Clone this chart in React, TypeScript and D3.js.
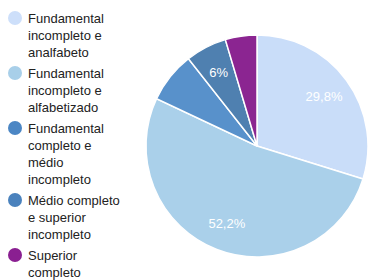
import React, { useEffect, useRef } from 'react';
import * as d3 from 'd3';

const categories = [
  ['Fundamental', 'incompleto e', 'analfabeto'],
  ['Fundamental', 'incompleto e', 'alfabetizado'],
  ['Fundamental', 'completo e', 'médio', 'incompleto'],
  ['Médio completo', 'e superior', 'incompleto'],
  ['Superior', 'completo'],
];
const values = [29.8, 52.2, 7.4, 6.0, 4.6];
const sliceLabels = ['29,8%', '52,2%', '', '6%', ''];
const colors = ['#c9ddf9', '#aad0ea', '#5891cb', '#4f80b0', '#8b2591'];
const legendColors = ['#cddffa', '#a8cfe9', '#4b86c4', '#4a82bd', '#8a1f91'];

const App: React.FC = () => {
  const svgRef = useRef<SVGSVGElement>(null);

  useEffect(() => {
    if (!svgRef.current) return;
    const svg = d3.select(svgRef.current);
    svg.selectAll('*').remove();

    const font = '"Liberation Sans", Arial, Helvetica, sans-serif';

    // Legend
    const lineH = 17;
    let y = 18;
    const legend = svg.append('g');
    categories.forEach((lines, i) => {
      legend.append('circle')
        .attr('cx', 15).attr('cy', y).attr('r', 7)
        .attr('fill', legendColors[i]);
      const t = legend.append('text')
        .attr('x', 28).attr('y', y)
        .attr('font-family', font).attr('font-size', 13)
        .attr('fill', '#222')
        .attr('dominant-baseline', 'central');
      lines.forEach((ln, j) => {
        t.append('tspan').attr('x', 28).attr('y', y + j * lineH).text(ln);
      });
      y += lines.length * lineH + 4;
    });

    // Pie
    const cx = 257, cy = 146, r = 111;
    const pie = d3.pie<number>().sort(null).value(d => d);
    const arc = d3.arc<d3.PieArcDatum<number>>().innerRadius(0).outerRadius(r);
    const labelArc = d3.arc<d3.PieArcDatum<number>>().innerRadius(r * 0.75).outerRadius(r * 0.75);
    const g = svg.append('g').attr('transform', `translate(${cx},${cy})`);
    const arcs = pie(values);

    g.selectAll('path').data(arcs).enter().append('path')
      .attr('d', arc)
      .attr('fill', (_, i) => colors[i])
      .attr('stroke', '#fff')
      .attr('stroke-width', 1.5);

    g.selectAll('text').data(arcs).enter().append('text')
      .attr('transform', d => `translate(${labelArc.centroid(d)})`)
      .attr('text-anchor', 'middle')
      .attr('dominant-baseline', 'central')
      .attr('font-family', font).attr('font-size', 13)
      .attr('fill', '#fff')
      .text((_, i) => sliceLabels[i]);
  }, []);

  return (
    <svg ref={svgRef} width={369} height={280}
      style={{ position: 'absolute', left: 0, top: 0, background: '#fff' }} />
  );
};

export default App;
